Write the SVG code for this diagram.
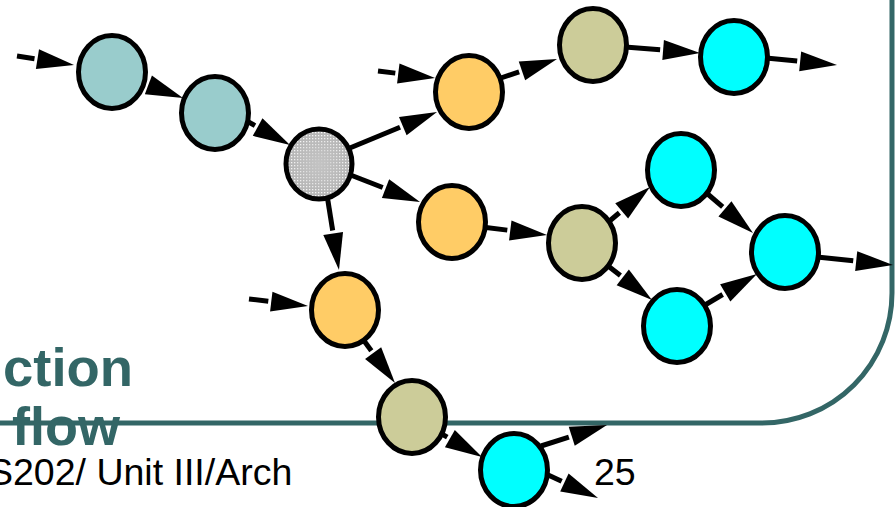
<svg xmlns="http://www.w3.org/2000/svg" width="895" height="507" viewBox="0 0 895 507">
<style>
.node{stroke:#000;stroke-width:5}
.teal{fill:#99CCCC}
.orange{fill:#FFCC66}
.khaki{fill:#CCCC99}
.cyan{fill:#00FFFF}
.conn line{stroke:#000;stroke-width:5;marker-end:url(#ah)}
.title{font-family:"Liberation Sans",Arial,sans-serif;font-weight:bold;font-size:54px;fill:#336666}
.foot{font-family:"Liberation Sans",Arial,sans-serif;font-size:37.5px;fill:#000}
</style>
<defs>
<marker id="ah" markerUnits="userSpaceOnUse" orient="auto" refX="0" refY="0" markerWidth="50" markerHeight="30" viewBox="-5 -15 50 30" overflow="visible">
<path d="M3,-10 L40,0 L3,10 Z" fill="#000"/>
</marker>
<pattern id="dots" width="3" height="3" patternUnits="userSpaceOnUse">
<rect width="3" height="3" fill="#b4b4b4"/>
<rect width="1.3" height="1.3" fill="#fff"/>
</pattern>
<radialGradient id="shade" cx="0.5" cy="0.5" r="0.5">
<stop offset="0" stop-color="#c4c4c4" stop-opacity="0.95"/>
<stop offset="0.6" stop-color="#c4c4c4" stop-opacity="0.4"/>
<stop offset="1" stop-color="#c4c4c4" stop-opacity="0"/>
</radialGradient>
</defs>
<rect width="895" height="507" fill="#fff"/>
<g id="frame">
<path d="M892,-5 L892,293 A130,130 0 0 1 762,423 L-5,423" fill="none" stroke="#336666" stroke-width="5"/>
</g>
<g id="texts">
<text class="title" x="3" y="386" textLength="130" lengthAdjust="spacingAndGlyphs">ction</text>
<text class="title" x="12" y="445">flow</text>
<text class="foot" x="-12" y="485">S202/ Unit III/Arch</text>
<text class="foot" x="594" y="485">25</text>
</g>
<g id="connectors" class="conn">
<line x1="17" y1="56" x2="34.49" y2="58.76"/>
<line x1="138" y1="81" x2="145.58" y2="83.86"/>
<line x1="243" y1="119" x2="255" y2="125.64"/>
<line x1="345" y1="150" x2="400.03" y2="127.27"/>
<line x1="348" y1="174" x2="382.72" y2="187.5"/>
<line x1="327" y1="195" x2="332.68" y2="230.5"/>
<line x1="378" y1="71" x2="395.3" y2="73.12"/>
<line x1="495" y1="80" x2="519.12" y2="71.83"/>
<line x1="625" y1="47" x2="660.13" y2="49.81"/>
<line x1="766" y1="58" x2="797.19" y2="61.08"/>
<line x1="482" y1="227" x2="507.3" y2="230.11"/>
<line x1="606" y1="224" x2="619.38" y2="212.74"/>
<line x1="703" y1="190" x2="722.67" y2="206.92"/>
<line x1="603" y1="262" x2="620.39" y2="275.49"/>
<line x1="700" y1="308" x2="722.65" y2="294.49"/>
<line x1="817" y1="257" x2="853.22" y2="260.81"/>
<line x1="249" y1="299" x2="268.28" y2="301.29"/>
<line x1="362" y1="338" x2="371.34" y2="350.74"/>
<line x1="440" y1="433" x2="447.27" y2="437.15"/>
<line x1="541" y1="446" x2="568.88" y2="437.13"/>
<line x1="546" y1="474" x2="561.68" y2="481.24"/>
</g>
<g id="n1"><ellipse class="node teal" cx="112" cy="72" rx="33.5" ry="36.5"/></g>
<g id="n2"><ellipse class="node teal" cx="215" cy="113" rx="33.5" ry="36.5"/></g>
<g id="n3"><ellipse cx="319" cy="164" rx="33" ry="35" fill="url(#dots)"/><ellipse class="node" cx="319" cy="164" rx="33" ry="35" fill="url(#shade)"/></g>
<g id="n4"><ellipse class="node orange" cx="469" cy="92" rx="33.5" ry="36.5"/></g>
<g id="n5"><ellipse class="node khaki" cx="593" cy="45" rx="33.5" ry="36.5"/></g>
<g id="n6"><ellipse class="node cyan" cx="734" cy="57" rx="33.5" ry="36.5"/></g>
<g id="n7"><ellipse class="node orange" cx="452" cy="222" rx="33.5" ry="36.5"/></g>
<g id="n8"><ellipse class="node khaki" cx="582" cy="243" rx="33.5" ry="36.5"/></g>
<g id="n9"><ellipse class="node cyan" cx="681" cy="170" rx="33.5" ry="36.5"/></g>
<g id="n10"><ellipse class="node cyan" cx="785" cy="252" rx="33.5" ry="36.5"/></g>
<g id="n11"><ellipse class="node cyan" cx="677" cy="326" rx="33.5" ry="36.5"/></g>
<g id="n12"><ellipse class="node orange" cx="345" cy="310" rx="33.5" ry="36.5"/></g>
<g id="n13"><ellipse class="node khaki" cx="412" cy="417" rx="33.5" ry="36.5"/></g>
<g id="n14"><ellipse class="node cyan" cx="514" cy="470" rx="33.5" ry="36.5"/></g>
</svg>
